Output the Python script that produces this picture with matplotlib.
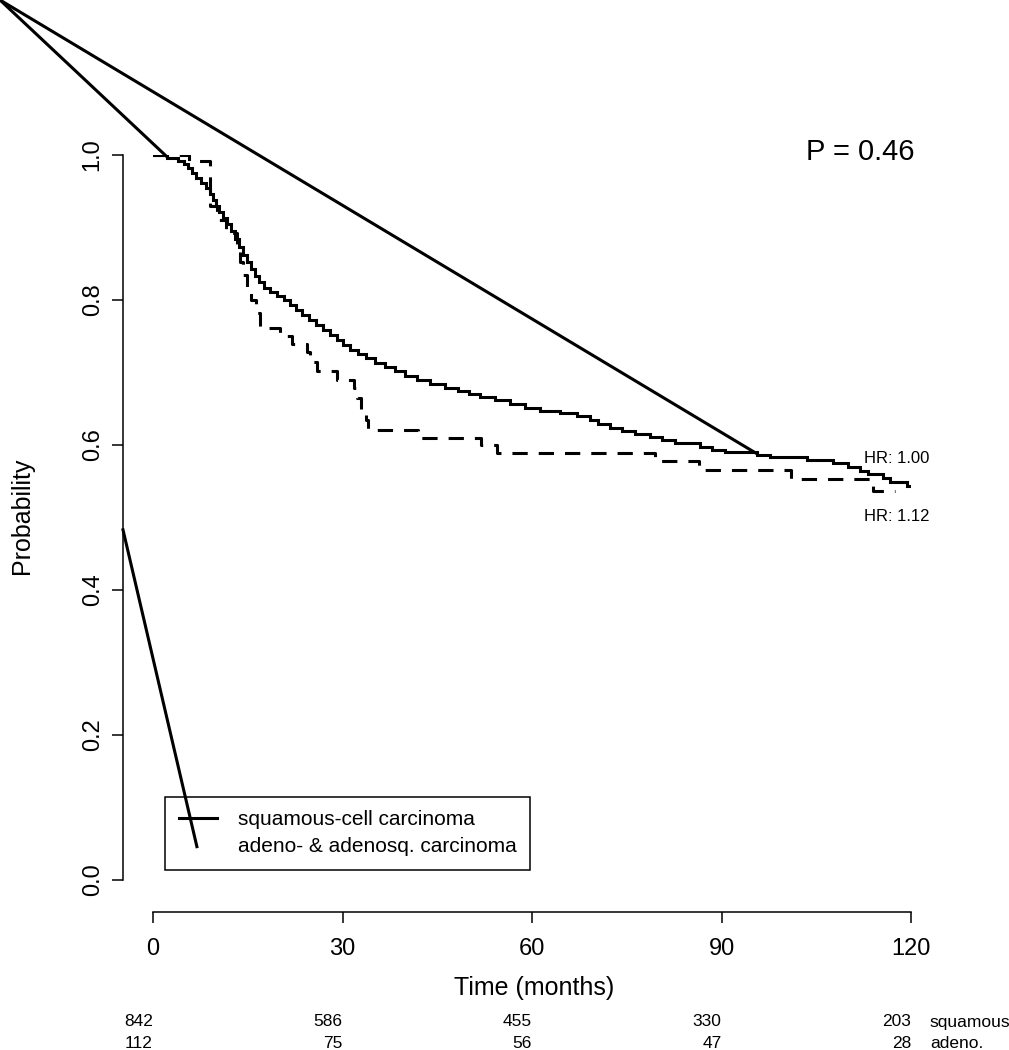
import matplotlib
matplotlib.use("Agg")
import matplotlib.pyplot as plt
from matplotlib.lines import Line2D
from matplotlib.patches import ConnectionPatch
from matplotlib.transforms import blended_transform_factory

plt.rcParams['font.family'] = ['Liberation Sans', 'DejaVu Sans']

# Kaplan-Meier steps (months, survival)
squamous_t = [0, 2.2, 4.0, 4.9, 5.5, 6.2, 6.8, 7.6, 8.4, 9.0, 9.5, 10.0, 10.4,
              11.1, 11.7, 12.3, 13.0, 13.6, 14.2, 14.9, 15.5, 16.1, 16.8, 17.6,
              18.5, 19.6, 20.7, 21.7, 22.6, 23.6, 24.7, 25.8, 26.9, 28.0, 29.1,
              30.1, 31.2, 32.5, 33.7, 35.1, 36.7, 38.3, 39.9, 41.8, 43.8, 46.2,
              48.3, 50.0, 51.8, 54.1, 56.5, 58.9, 61.3, 64.4, 67.1, 69.2, 70.4,
              72.3, 74.2, 76.3, 78.7, 80.6, 82.6, 86.6, 88.5, 90.5, 95.6, 97.7,
              103.5, 107.6, 110.0, 111.9, 113.2, 115.6, 116.7, 119.4, 120.0]
squamous_s = [1.000, 0.996, 0.992, 0.988, 0.982, 0.975, 0.968, 0.961, 0.954,
              0.946, 0.938, 0.930, 0.921, 0.913, 0.905, 0.895, 0.884, 0.873,
              0.862, 0.852, 0.843, 0.833, 0.825, 0.817, 0.811, 0.806, 0.800,
              0.793, 0.786, 0.779, 0.772, 0.766, 0.759, 0.752, 0.745, 0.738,
              0.731, 0.726, 0.720, 0.713, 0.708, 0.702, 0.695, 0.690, 0.684,
              0.679, 0.674, 0.670, 0.666, 0.662, 0.657, 0.651, 0.647, 0.644,
              0.640, 0.634, 0.629, 0.623, 0.619, 0.615, 0.611, 0.607, 0.603,
              0.597, 0.593, 0.590, 0.586, 0.583, 0.579, 0.575, 0.570, 0.564,
              0.560, 0.554, 0.549, 0.543, 0.543]

adeno_t = [0, 5.7, 9.0, 10.2, 11.5, 13.3, 13.8, 14.2, 14.9, 15.5, 16.3, 16.9,
           20.1, 22.0, 24.4, 24.9, 26.0, 29.1, 31.8, 32.3, 32.9, 33.7, 34.0,
           42.0, 51.9, 54.5, 79.5, 86.4, 101.0, 114.0, 117.5]
adeno_s = [1.000, 0.992, 0.929, 0.911, 0.893, 0.869, 0.852, 0.834, 0.817,
           0.800, 0.782, 0.761, 0.750, 0.739, 0.728, 0.714, 0.702, 0.690,
           0.679, 0.665, 0.648, 0.634, 0.621, 0.610, 0.600, 0.589, 0.578,
           0.566, 0.553, 0.537, 0.537]

legend_labels = ['squamous-cell carcinoma', 'adeno- & adenosq. carcinoma']
hr_labels = ['HR: 1.00', 'HR: 1.12']
p_label = 'P = 0.46'

risk_times = [0, 30, 60, 90, 120]
risk_squamous = [842, 586, 455, 330, 203]
risk_adeno = [112, 75, 56, 47, 28]
risk_names = ['squamous', 'adeno.']

# stray strokes in the picture (data coords of their ends)
stray_ends_from_corner = [(2.4, 0.996), (95.6, 0.588)]
stray_seg_t = [-4.75, 6.95]
stray_seg_s = [0.483, 0.046]

W, H = 1009, 1050
fig = plt.figure(figsize=(W / 100, H / 100), dpi=100)
ax = fig.add_axes([153 / W, 1 - 880 / H, 758 / W, 725 / H])
ax.set_xlim(0, 120)
ax.set_ylim(0, 1)

lw = 2.2
ax.step(squamous_t, squamous_s, where='post', color='k', lw=lw,
        solid_joinstyle='miter')
ax.step(adeno_t, adeno_s, where='post', color='k', lw=lw,
        linestyle=(0, (5, 3.6)))

for xy in stray_ends_from_corner:
    con = ConnectionPatch(xyA=(0, 1), coordsA=fig.transFigure,
                          xyB=xy, coordsB=ax.transData,
                          color='k', lw=lw)
    fig.add_artist(con)
ax.plot(stray_seg_t, stray_seg_s, color='k', lw=lw, clip_on=False, zorder=10)

# R-style detached axes
for side in ['top', 'right']:
    ax.spines[side].set_visible(False)
ax.spines['left'].set_position(('outward', 21.6))
ax.spines['bottom'].set_position(('outward', 23))
ax.spines['left'].set_bounds(0, 1)
ax.spines['bottom'].set_bounds(0, 120)
for side in ['left', 'bottom']:
    ax.spines[side].set_linewidth(1.1)
ax.set_xticks(risk_times)
ax.set_yticks([0, 0.2, 0.4, 0.6, 0.8, 1.0])
ax.set_yticklabels(['0.0', '0.2', '0.4', '0.6', '0.8', '1.0'],
                   rotation=90, va='center')
ax.tick_params(length=7.9, width=1.1, labelsize=17)
ax.tick_params(axis='x', pad=11)
ax.tick_params(axis='y', pad=6)

fig.text(534 / W, 1 - 988 / H, 'Time (months)', fontsize=18,
         ha='center', va='center')
fig.text(22 / W, 1 - 516 / H, 'Probability', fontsize=18,
         ha='center', va='center', rotation=90)

ax.text(112, 1.004, p_label, fontsize=21, ha='center', va='center')
ax.text(112.6, 0.581, hr_labels[0], fontsize=12, ha='left', va='center')
ax.text(112.6, 0.501, hr_labels[1], fontsize=12, ha='left', va='center')

handles = [Line2D([], [], color='k', lw=lw), Line2D([], [], color='none')]
leg = ax.legend(handles, legend_labels, loc='lower left',
                bbox_to_anchor=(1.9, 0.0138), bbox_transform=ax.transData,
                borderaxespad=0, fontsize=15, fancybox=False,
                edgecolor='k', framealpha=1, handlelength=1.85,
                handletextpad=1.0, borderpad=0.65, labelspacing=0.4,
                alignment='left')
leg.get_frame().set_linewidth(1.1)
leg.set_zorder(5)

trans = blended_transform_factory(ax.transData, fig.transFigure)
for t, a, b in zip(risk_times, risk_squamous, risk_adeno):
    ax.text(t, 1 - 1022 / H, str(a), transform=trans, fontsize=12.5,
            ha='right', va='center')
    ax.text(t, 1 - 1043 / H, str(b), transform=trans, fontsize=12.5,
            ha='right', va='center')
ax.text(123, 1 - 1022 / H, risk_names[0], transform=trans, fontsize=12.5,
        ha='left', va='center')
ax.text(123, 1 - 1043 / H, risk_names[1], transform=trans, fontsize=12.5,
        ha='left', va='center')

fig.savefig('out.png', dpi=100)
